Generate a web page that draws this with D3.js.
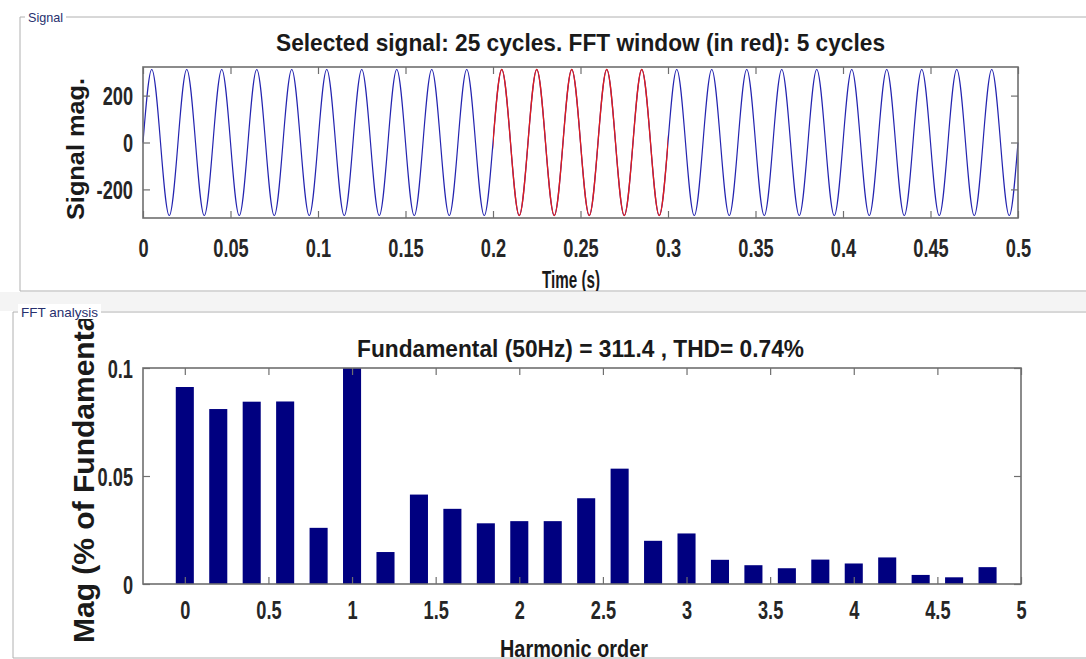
<!DOCTYPE html>
<html>
<head>
<meta charset="utf-8">
<script src="https://cdn.jsdelivr.net/npm/d3@7"></script>
<style>
  body { margin: 0; background: #fff; }
  svg text { font-family: "Liberation Sans", Arial, Helvetica, sans-serif; }
</style>
</head>
<body>
<div id="chart"></div>
<script>
// ---- data ----
// signal trace, one sample every 5 ms (zero / peak / zero / trough), 50 Hz, 311.4 peak
const sigStep = 0.005
const sigVals = [
  0, 311.4, 0, -311.4,  0, 311.4, 0, -311.4,  0, 311.4, 0, -311.4,  0, 311.4, 0, -311.4,  0, 311.4, 0, -311.4,
  0, 311.4, 0, -311.4,  0, 311.4, 0, -311.4,  0, 311.4, 0, -311.4,  0, 311.4, 0, -311.4,  0, 311.4, 0, -311.4,
  0, 311.4, 0, -311.4,  0, 311.4, 0, -311.4,  0, 311.4, 0, -311.4,  0, 311.4, 0, -311.4,  0, 311.4, 0, -311.4,
  0, 311.4, 0, -311.4,  0, 311.4, 0, -311.4,  0, 311.4, 0, -311.4,  0, 311.4, 0, -311.4,  0, 311.4, 0, -311.4,
  0, 311.4, 0, -311.4,  0, 311.4, 0, -311.4,  0, 311.4, 0, -311.4,  0, 311.4, 0, -311.4,  0, 311.4, 0, -311.4,
  0
]
const fftWindow = [0.2, 0.3]
const sigXTicks = [0, 0.05, 0.1, 0.15, 0.2, 0.25, 0.3, 0.35, 0.4, 0.45, 0.5]
const sigYTicks = [-200, 0, 200]

const harmOrder = [0, 0.2, 0.4, 0.6, 0.8, 1, 1.2, 1.4, 1.6, 1.8, 2, 2.2, 2.4,
                   2.6, 2.8, 3, 3.2, 3.4, 3.6, 3.8, 4, 4.2, 4.4, 4.6, 4.8]
const harmMag = [0.0912, 0.0810, 0.0844, 0.0845, 0.0260, 100, 0.0148, 0.0414, 0.0348, 0.0281, 0.0291, 0.0291, 0.0397,
                 0.0534, 0.0200, 0.0234, 0.0112, 0.0087, 0.0073, 0.0113, 0.0095, 0.0123, 0.0042, 0.0031, 0.0078]
const fftXTicks = [0, 0.5, 1, 1.5, 2, 2.5, 3, 3.5, 4, 4.5, 5]
const fftYTicks = [0, 0.05, 0.1]

const sigTitle = "Selected signal: 25 cycles. FFT window (in red): 5 cycles"
const fftTitle = "Fundamental (50Hz) = 311.4 , THD= 0.74%"

// ---- layout ----
const W = 1086, H = 659
const sigBox = { x0: 143, x1: 1018, y0: 67, y1: 218 }
const fftBox = { x0: 143, x1: 1021, y0: 368, y1: 584 }
const axisGray = "#6f6f6f"
const textCol = "#262626"
const squeeze = 0.7   // tick labels look horizontally condensed

const svg = d3.select("#chart").append("svg")
    .attr("width", W)
    .attr("height", H)

const defs = svg.append("defs")
function clipRect(id, x, y, w, h) {
    defs.append("clipPath").attr("id", id)
        .append("rect").attr("x", x).attr("y", y).attr("width", w).attr("height", h)
}

// panel frames (the two GUI group boxes)
svg.append("rect").attr("x", 0).attr("y", 292).attr("width", W).attr("height", 19).attr("fill", "#f4f4f4")

function panel(x, y, bottom, label, labelW) {
    const g = svg.append("g")
    g.append("path")
        .attr("d", `M${W + 5},${y}H${x}V${bottom}H${W + 5}`)
        .attr("fill", "none").attr("stroke", "#b0b0b0").attr("stroke-width", 1)
    g.append("rect").attr("x", x + 5).attr("y", y - 8).attr("width", labelW + 6).attr("height", 15).attr("fill", "#fff")
    g.append("text")
        .attr("x", x + 8).attr("y", y + 5)
        .attr("font-size", 13)
        .attr("fill", "#27306e")
        .attr("textLength", labelW).attr("lengthAdjust", "spacingAndGlyphs")
        .text(label)
}
panel(20, 17, 291, "Signal", 35)
panel(13, 312, 658, "FFT analysis", 77)

clipRect("clipSigPanel", 20, 17, W, 274)
clipRect("clipFftPanel", 13, 319, W, 345)

// ---- helpers ----
function boxAndTicks(g, box, x, y, xTicks, yTicks, xLabelDy) {
    const fmt = d => String(d)
    const styleAxis = a => {
        a.attr("font-size", null).attr("font-family", null)
        a.select(".domain").remove()
        a.selectAll("line").attr("stroke", axisGray).attr("stroke-width", 1.2)
    }
    const bottom = g.append("g").attr("transform", `translate(0,${box.y1})`)
        .call(d3.axisBottom(x).tickValues(xTicks).tickSize(-7).tickPadding(0).tickFormat(fmt))
    styleAxis(bottom)
    bottom.selectAll("text")
        .attr("y", xLabelDy).attr("dy", null)
        .attr("font-size", 26).attr("font-weight", "bold").attr("fill", textCol)
        .attr("transform", `scale(${squeeze},1)`)

    const top = g.append("g").attr("transform", `translate(0,${box.y0})`)
        .call(d3.axisTop(x).tickValues(xTicks).tickSize(-7).tickFormat(""))
    styleAxis(top)

    const left = g.append("g").attr("transform", `translate(${box.x0},0)`)
        .call(d3.axisLeft(y).tickValues(yTicks).tickSize(-7).tickPadding(0).tickFormat(fmt))
    styleAxis(left)
    left.selectAll("text")
        .attr("x", -10 / squeeze).attr("dy", "0.35em")
        .attr("font-size", 26).attr("font-weight", "bold").attr("fill", textCol)
        .attr("transform", `scale(${squeeze},1)`)

    const right = g.append("g").attr("transform", `translate(${box.x1},0)`)
        .call(d3.axisRight(y).tickValues(yTicks).tickSize(-7).tickFormat(""))
    styleAxis(right)

    g.append("rect")
        .attr("x", box.x0).attr("y", box.y0)
        .attr("width", box.x1 - box.x0).attr("height", box.y1 - box.y0)
        .attr("fill", "none").attr("stroke", axisGray).attr("stroke-width", 1.6)
}

function boldText(g, x, y, str, size, len, rotate) {
    const t = g.append("text")
        .attr("font-size", size).attr("font-weight", "bold").attr("fill", "#1a1a1a")
        .attr("text-anchor", "middle")
        .text(str)
    if (rotate) t.attr("transform", `translate(${x},${y}) rotate(-90)`)
    else t.attr("x", x).attr("y", y)
    if (len) t.attr("textLength", len).attr("lengthAdjust", "spacingAndGlyphs")
    return t
}

// ---- signal plot ----
const gSig = svg.append("g")
const xSig = d3.scaleLinear().domain([0, 0.5]).range([sigBox.x0, sigBox.x1])
const ySig = d3.scaleLinear().domain([-322, 322]).range([sigBox.y1, sigBox.y0])

clipRect("clipWindow", xSig(fftWindow[0]), sigBox.y0 - 2, xSig(fftWindow[1]) - xSig(fftWindow[0]), sigBox.y1 - sigBox.y0 + 4)

const sigLine = d3.line()
    .x((d, i) => xSig(i * sigStep))
    .y(d => ySig(d))
    .curve(d3.curveNatural)

gSig.append("path").datum(sigVals)
    .attr("d", sigLine)
    .attr("fill", "none").attr("stroke", "#2424b0").attr("stroke-width", 1.2)
gSig.append("path").datum(sigVals)
    .attr("d", sigLine)
    .attr("clip-path", "url(#clipWindow)")
    .attr("fill", "none").attr("stroke", "#e01c1c").attr("stroke-width", 1.3)

boxAndTicks(gSig, sigBox, xSig, ySig, sigXTicks, sigYTicks, 39)

boldText(gSig, 580.5, 51, sigTitle, 24, 609)
boldText(gSig, 84, 149, "Signal mag.", 24, 142, true)
boldText(gSig, 571, 288, "Time (s)", 24, 58).attr("clip-path", "url(#clipSigPanel)")

// ---- FFT plot ----
const gFft = svg.append("g")
const xFft = d3.scaleLinear().domain([-0.25, 5]).range([fftBox.x0, fftBox.x1])
const yFft = d3.scaleLinear().domain([0, 0.1]).range([fftBox.y1, fftBox.y0])
const barW = xFft(0.54 * 0.2) - xFft(0)

clipRect("clipFftPlot", fftBox.x0, fftBox.y0, fftBox.x1 - fftBox.x0, fftBox.y1 - fftBox.y0)

gFft.append("g").attr("clip-path", "url(#clipFftPlot)")
    .selectAll("rect")
    .data(harmOrder)
    .enter().append("rect")
    .attr("x", d => xFft(d) - barW / 2)
    .attr("width", barW)
    .attr("y", (d, i) => yFft(harmMag[i]))
    .attr("height", (d, i) => yFft(0) - yFft(harmMag[i]))
    .attr("fill", "#000080")

boxAndTicks(gFft, fftBox, xFft, yFft, fftXTicks, fftYTicks, 35)

boldText(gFft, 580.5, 357, fftTitle, 24, 447)
boldText(gFft, 574, 657, "Harmonic order", 24, 148).attr("clip-path", "url(#clipFftPanel)")

const gYl = gFft.append("g").attr("clip-path", "url(#clipFftPanel)")
gYl.append("text")
    .attr("transform", "translate(94,643) rotate(-90)")
    .attr("font-size", 30).attr("font-weight", "bold").attr("fill", "#1a1a1a")
    .text("Mag (% of Fundamental)")
</script>
</body>
</html>
